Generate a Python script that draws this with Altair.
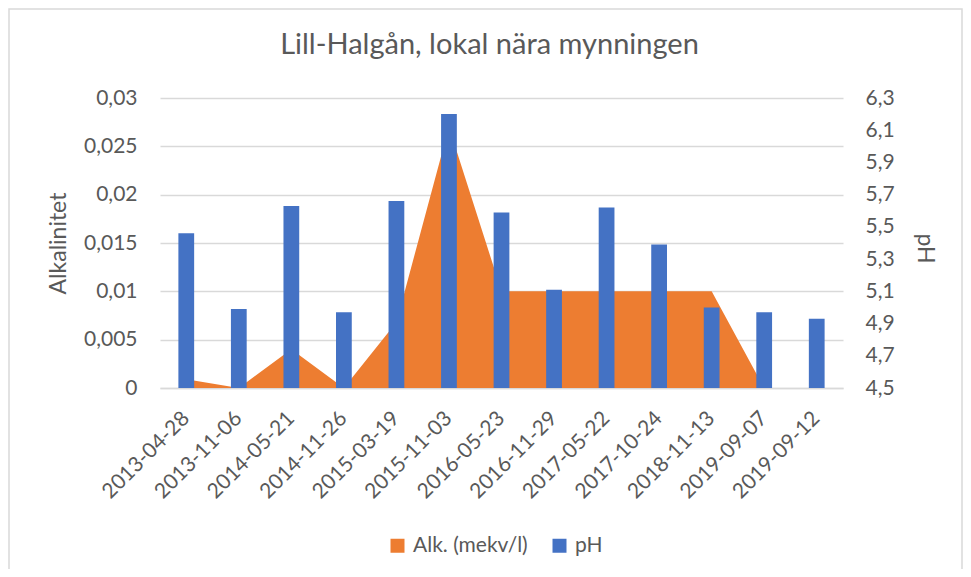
import altair as alt
import pandas as pd

dates = ["2013-04-28", "2013-11-06", "2014-05-21", "2014-11-26", "2015-03-19",
         "2015-11-03", "2016-05-23", "2016-11-29", "2017-05-22", "2017-10-24",
         "2018-11-13", "2019-09-07", "2019-09-12"]
alk = [0.0009, 0.0, 0.004, 0.0, 0.0068, 0.027, 0.01, 0.01, 0.01, 0.01, 0.01, 0.0, 0.0]
ph = [5.46, 4.99, 5.63, 4.97, 5.66, 6.20, 5.59, 5.11, 5.62, 5.39, 5.00, 4.97, 4.93]
series_names = ["Alk. (mekv/l)", "pH"]
series_colors = ["#ED7D31", "#4472C4"]
alk_ticks = [0, 0.005, 0.01, 0.015, 0.02, 0.025, 0.03]
ph_ticks = [4.5, 4.7, 4.9, 5.1, 5.3, 5.5, 5.7, 5.9, 6.1, 6.3]

FONT = "Lato"
TXT = "#595959"
GRID = "#d9d9d9"
LBL = 21

alk_df = pd.DataFrame({"date": dates, "value": alk, "series": series_names[0]})
ph_df = pd.DataFrame({"date": dates, "value": ph, "series": series_names[1]})

x_enc = alt.X(
    "date:N", sort=dates,
    scale=alt.Scale(paddingInner=0.7, paddingOuter=0.35),
    axis=alt.Axis(title=None, labelAngle=-45, labelAlign="right", labelBaseline="middle",
                  labelPadding=27, domain=True, domainColor=GRID, domainWidth=1.5,
                  ticks=False, grid=False),
)

color_enc = alt.Color(
    "series:N",
    scale=alt.Scale(domain=series_names, range=series_colors),
    legend=alt.Legend(title=None, orient="none", legendX=227, legendY=437,
                      direction="horizontal", symbolType="square", symbolSize=196,
                      symbolStrokeWidth=0, labelFontSize=LBL, labelFont=FONT,
                      labelColor=TXT, columnPadding=21, labelOffset=5),
)

frame = alt.Chart(pd.DataFrame({"k": [0]})).mark_rect(
    fill="transparent", stroke=GRID, strokeWidth=1.5
).encode(
    x=alt.value(-151), x2=alt.value(802), y=alt.value(-89), y2=alt.value(490)
)

area = alt.Chart(alk_df).mark_area(interpolate="linear", opacity=1).encode(
    x=x_enc,
    y=alt.Y("value:Q",
            scale=alt.Scale(domain=[0, 0.03], nice=False, zero=True),
            axis=alt.Axis(orient="left", values=alk_ticks,
                          labelExpr="replace(format(datum.value, '.3~f'), '.', ',')",
                          title="Alkalinitet", titleX=-102, titleY=145, titleAngle=-90,
                          titleAlign="center", titleBaseline="middle",
                          grid=True, gridColor=GRID, gridWidth=1.5, labelPadding=23)),
    color=color_enc,
)

bars = alt.Chart(ph_df).mark_bar().encode(
    x=x_enc,
    y=alt.Y("value:Q",
            scale=alt.Scale(domain=[4.5, 6.3], nice=False, zero=False),
            axis=alt.Axis(orient="right", values=ph_ticks,
                          labelExpr="replace(format(datum.value, '.1f'), '.', ',')",
                          title="pH", titleX=81, titleY=150, titleAngle=90,
                          titleAlign="center", titleBaseline="middle",
                          grid=False, labelPadding=22)),
    y2=alt.datum(4.5),
    color=color_enc,
)

chart = alt.layer(frame, area, bars).resolve_scale(y="independent").properties(
    width=683, height=290,
    autosize=alt.AutoSizeParams(type="none"),
    padding={"left": 152, "top": 90, "right": 120, "bottom": 181},
    title=alt.TitleParams(text="Lill-Halgån, lokal nära mynningen", fontSize=29, font=FONT,
                          color=TXT, fontWeight="normal", anchor="middle", frame="group",
                          offset=-75, dx=-12, baseline="alphabetic"),
).configure_view(strokeOpacity=0).configure_axis(
    labelFont=FONT, labelFontSize=LBL, labelColor=TXT,
    titleFont=FONT, titleFontSize=23, titleColor=TXT, titleFontWeight="normal",
    domain=False, ticks=False,
)

chart.save("out.html", embed_options={"renderer": "svg", "actions": False})
